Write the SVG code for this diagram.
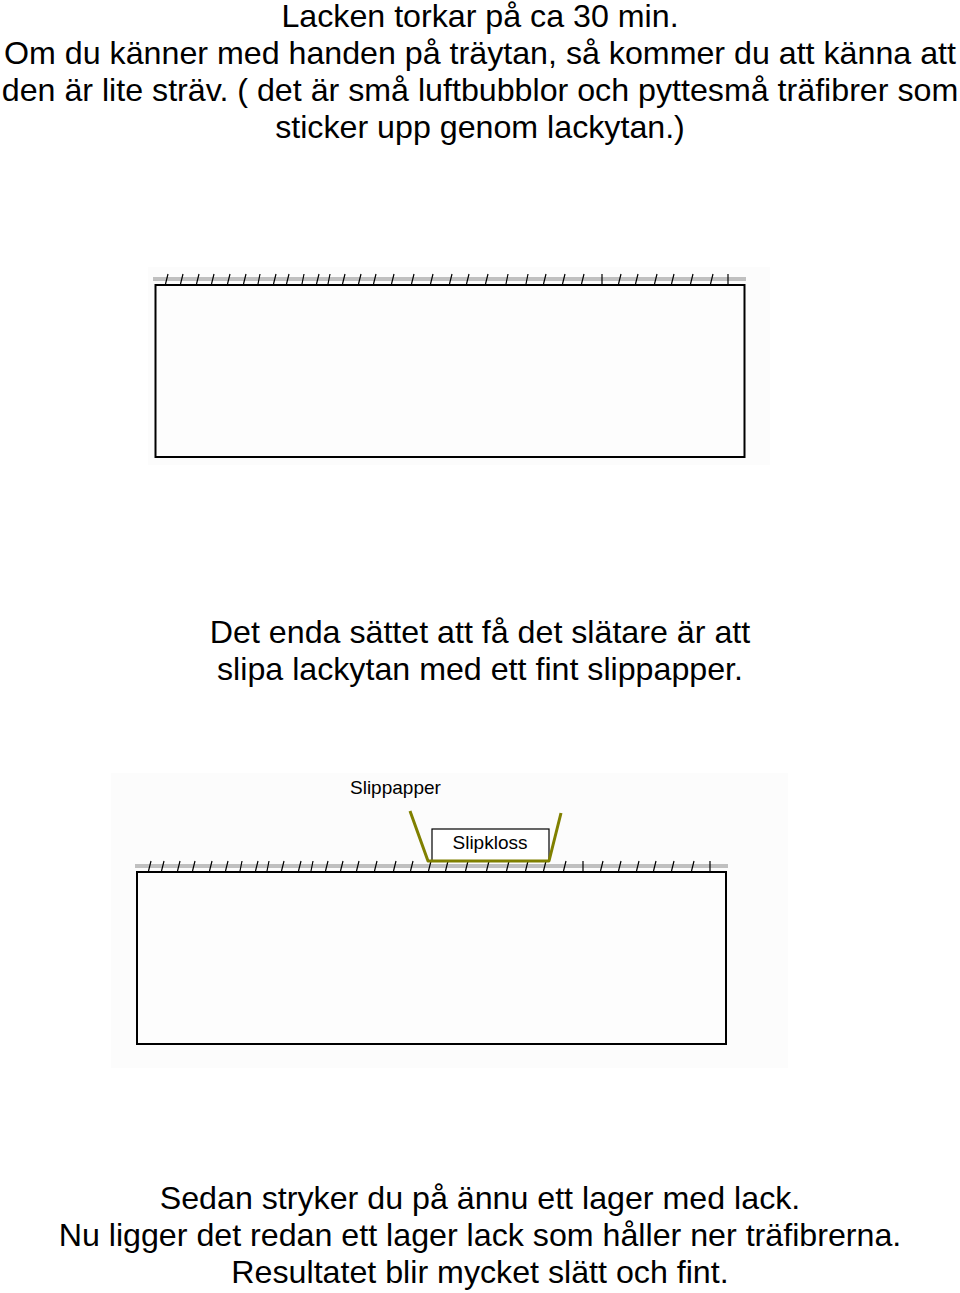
<svg xmlns="http://www.w3.org/2000/svg" width="960" height="1293" viewBox="0 0 960 1293">
<style>
.t{font-family:"Liberation Sans",Arial,sans-serif;font-size:32.2px;fill:#000;text-anchor:middle}
.s{font-family:"Liberation Sans",Arial,sans-serif;font-size:19px;fill:#000}
.bar{fill:#c0c0c0}
.box{fill:#fdfdfd;stroke:#000;stroke-width:2}
.tick{stroke:#000;stroke-width:1.2;fill:none}
.bg{fill:#fcfcfc}
</style>
<rect width="960" height="1293" fill="#fff"/>
<g id="text-top">
<text class="t" x="480" y="27">Lacken torkar på ca 30 min.</text>
<text class="t" x="480" y="64">Om du känner med handen på träytan, så kommer du att känna att</text>
<text class="t" x="480" y="101">den är lite sträv. ( det är små luftbubblor och pyttesmå träfibrer som</text>
<text class="t" x="480" y="138">sticker upp genom lackytan.)</text>
</g>
<g id="figure1">
<rect class="bg" x="148" y="267" width="622" height="198"/>
<rect class="bar" x="153" y="277" width="593" height="4"/>
<rect class="box" x="155.5" y="285" width="589" height="172"/>
<path class="tick" d="M165.5 284L168 274M180.5 284L183 274M196.5 284L199 274M211.5 284L214 274M227.5 284L230 274M243.5 284L246 274M258 284L260 274M273.5 284L276 274M286.5 284L289 274M302 284L304 274M316.5 284L319 274M328 284L330 274M342.5 284L345 274M358.5 284L361 274M373.5 284L376 274M391.5 284L394 274M411.5 284L414 274M430.5 284L433 274M449.5 284L452 274M466.5 284L469 274M485.5 284L488 274M506 284L508 274M526 284L528 274M543.5 284L546 274M562.5 284L565 274M581.5 284L584 274M602 284L602 274M618.5 284L621 274M635.5 284L638 274M654.5 284L657 274M671.5 284L674 274M690.5 284L693 274M710.5 284L713 274M728 284L728 274"/>
</g>
<g id="text-mid">
<text class="t" x="480" y="643">Det enda sättet att få det slätare är att</text>
<text class="t" x="480" y="680">slipa lackytan med ett fint slippapper.</text>
</g>
<g id="figure2">
<rect class="bg" x="111" y="773" width="677" height="295"/>
<rect class="bar" x="135" y="864" width="593" height="4"/>
<rect class="box" x="137" y="872" width="589" height="172"/>
<path class="tick" d="M148.5 871L151 861M161.5 871L164 861M177.5 871L180 861M192.5 871L195 861M209.5 871L212 861M225.5 871L228 861M240 871L242 861M255.5 871L258 861M267 871L269 861M281.5 871L284 861M298.5 871L301 861M311 871L313 861M325.5 871L328 861M340.5 871L343 861M356.5 871L359 861M374.5 871L377 861M393.5 871L396 861M410.5 871L413 861M428.5 871L431 861M445.5 871L448 861M465.5 871L468 861M486.5 871L489 861M506.5 871L509 861M525.5 871L528 861M543.5 871L546 861M563.5 871L566 861M583 871L583 861M600.5 871L603 861M618.5 871L621 861M636.5 871L639 861M653.5 871L656 861M671.5 871L674 861M691.5 871L694 861M710 871L710 861"/>
</g>
<g id="slipkloss">
<rect x="432" y="829" width="117" height="32" fill="#fff" stroke="#000" stroke-width="1.2"/>
<text class="s" x="490" y="849" text-anchor="middle">Slipkloss</text>
</g>
<g id="slippapper">
<polyline points="410,811 428,861 549,861 561,813" fill="none" stroke="#808000" stroke-width="3" stroke-linejoin="round"/>
<text class="s" x="350" y="794">Slippapper</text>
</g>
<g id="text-bottom">
<text class="t" x="480" y="1209">Sedan stryker du på ännu ett lager med lack.</text>
<text class="t" x="480" y="1246">Nu ligger det redan ett lager lack som håller ner träfibrerna.</text>
<text class="t" x="480" y="1283">Resultatet blir mycket slätt och fint.</text>
</g>
</svg>
